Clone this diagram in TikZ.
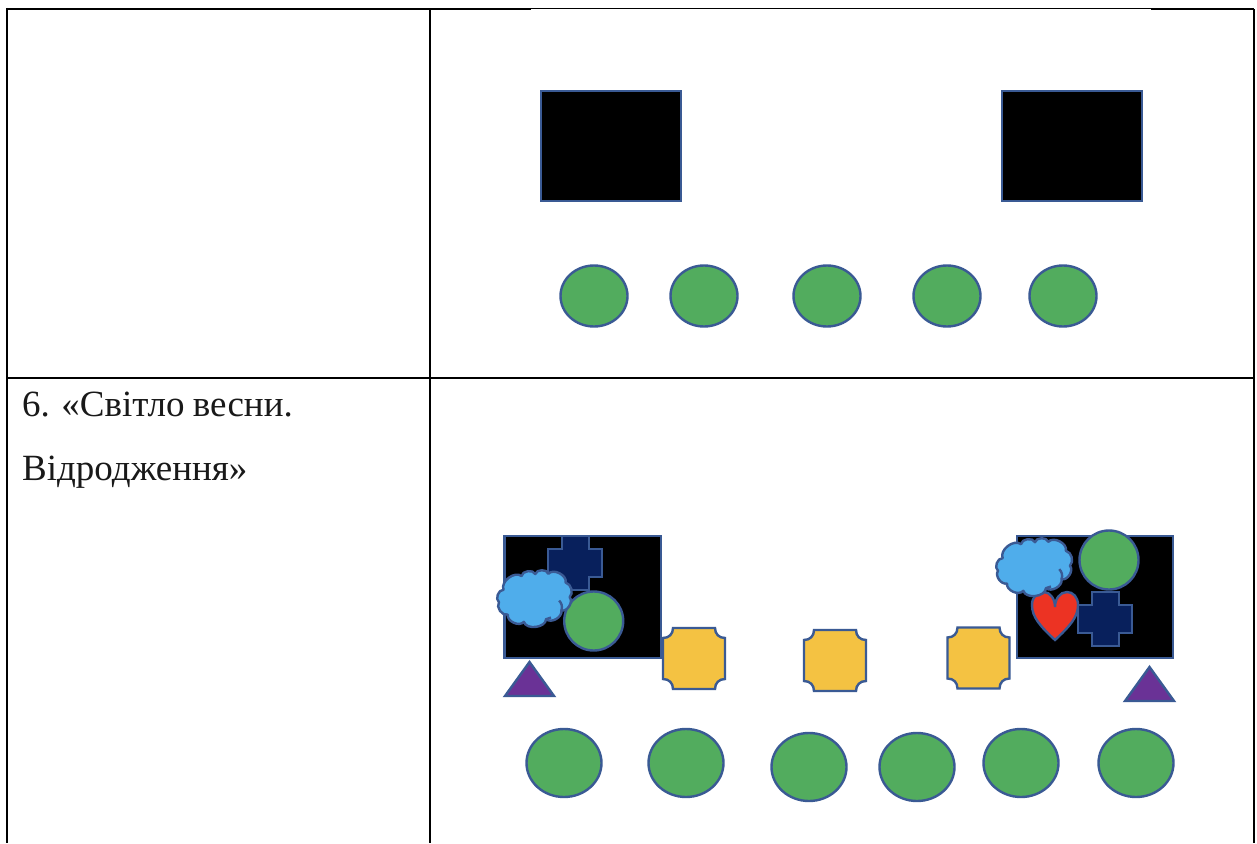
\documentclass[tikz,border=0pt]{standalone}
\usepackage{fontspec}
\setmainfont{Liberation Serif}
\definecolor{edge}{HTML}{3A5A94}
\definecolor{gr}{HTML}{52AC5E}
\definecolor{yl}{HTML}{F4C242}
\definecolor{bl}{HTML}{4FADEB}
\definecolor{nv}{HTML}{08205C}
\definecolor{pp}{HTML}{6A3296}
\definecolor{rd}{HTML}{EC3323}
\tikzset{
  shp/.style={draw=edge,line width=2.4pt,line join=miter},
  grid/.style={draw=black,line width=2pt},
  lbl/.style={inner sep=0pt,anchor=base west,font=\fontsize{37}{37}\selectfont,text=black!90}
}
\newcommand{\largecirc}[2]{\draw[shp,fill=gr] (#1,#2) ellipse [x radius=37.5,y radius=34];}
\newcommand{\smallcirc}[2]{\draw[shp,fill=gr] (#1,#2) ellipse [x radius=33.5,y radius=30.5];}
\newcommand{\tinycirc}[2]{\draw[shp,fill=gr] (#1,#2) circle [radius=29.5];}
\newcommand{\blackbox}[4]{\draw[shp,fill=black] (#1,#2) rectangle (#3,#4);}
\newcommand{\crossat}[2]{\draw[shp,fill=nv,shift={(#1,#2)}] (14,0) -- (41,0) -- (41,13) -- (54,13) -- (54,41) -- (41,41) -- (41,54) -- (14,54) -- (14,41) -- (0,41) -- (0,13) -- (14,13) -- cycle;}
\newcommand{\plaqueat}[2]{\draw[shp,fill=yl,shift={(#1,#2)}] (10,0) -- (52,0) .. controls (52,6) and (56,10) .. (62,10) -- (62,51) .. controls (56,51) and (52,55) .. (52,61) -- (10,61) .. controls (10,55) and (6,51) .. (0,51) -- (0,10) .. controls (6,10) and (10,6) .. (10,0) -- cycle;}
\newcommand{\trianat}[2]{\draw[shp,fill=pp,shift={(#1,#2)}] (24.5,0) -- (49,34) -- (0,34) -- cycle;}
\newcommand{\cloudat}[3]{\begin{scope}[shift={(#1,#2)},x=#3pt,y=-#3pt]
  \draw[shp,fill=bl,line join=round] (20,62) to[bend left=75] (75,20) to[bend left=75] (117,14) to[bend left=75] (157,13) to[bend left=75] (210,40) to[bend left=60] (222,85) to[bend left=75] (197,125) to[bend left=70] (150,152) to[bend left=80] (82,160) to[bend left=75] (33,138) to[bend left=70] (6,100) to[bend left=75] cycle;
  \draw[shp] (190,95) to[bend left=30] (197,125);
  \draw[shp] (150,152) to[bend right=20] (165,147);
\end{scope}}
\begin{document}
\begin{tikzpicture}[x=1pt,y=-1pt]
\useasboundingbox (0,0) rectangle (1257,843);
\fill[white] (0,0) rectangle (1257,843);
% table
\draw[grid] (7,9) -- (531,9);
\draw[black,line width=1.2pt] (531,8.5) -- (1151,8.5);
\draw[grid] (1151,9) -- (1254,9);
\draw[grid] (7,8) -- (7,843);
\draw[grid] (430,9) -- (430,843);
\draw[grid] (1254,9) -- (1254,843);
\draw[grid] (6,378) -- (1255,378);
% text
\node[lbl] (t1) at (22,416) {\spaceskip=8.4pt 6. «Світло весни.};
\node[lbl] (t2) at (22,480) {Відродження»};
% top row
\blackbox{541}{91}{681}{201}
\blackbox{1002}{91}{1142}{201}
\smallcirc{594}{296}\smallcirc{704}{296}\smallcirc{827}{296}\smallcirc{947}{296}\smallcirc{1063}{296}
% lower left group
\blackbox{504.5}{536}{661}{658}
\crossat{548}{536}
\tinycirc{593.7}{621}
\cloudat{497}{569.5}{0.327}
\trianat{505}{662}
\plaqueat{663}{628}
% middle
\plaqueat{804}{630}
% lower right group
\plaqueat{947.5}{627.5}
\blackbox{1017}{536}{1173}{658}
\tinycirc{1109}{560}
\draw[shp,fill=rd] (1055,640) .. controls (1040,626) and (1032,617) .. (1032,605) .. controls (1032,597) and (1037,592) .. (1044,592) .. controls (1050,592) and (1055,599) .. (1055,607) .. controls (1055,599) and (1060,592) .. (1067,592) .. controls (1073,592) and (1078,597) .. (1078,605) .. controls (1078,617) and (1070,626) .. (1055,640) -- cycle;
\crossat{1078}{592}
\cloudat{996}{537.5}{0.333}
\trianat{1125}{667}
% bottom row
\largecirc{564}{763}\largecirc{686}{763}\largecirc{809}{767}\largecirc{917}{767}\largecirc{1021}{763}\largecirc{1136}{763}
\end{tikzpicture}
\end{document}
